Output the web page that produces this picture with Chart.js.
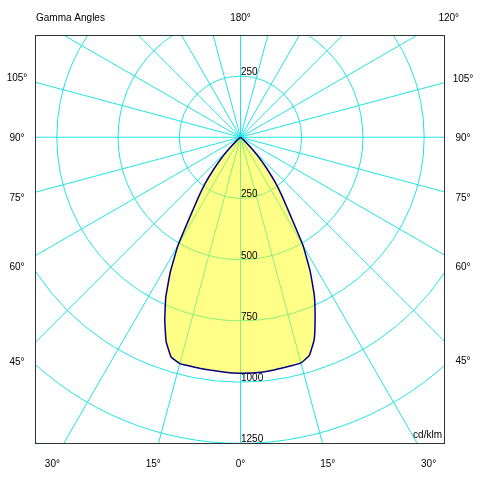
<!DOCTYPE html>
<html>
<head>
<meta charset="utf-8">
<script src="https://cdn.jsdelivr.net/npm/chart.js@4/dist/chart.umd.min.js"></script>
<style>
  html, body { margin: 0; padding: 0; background: #fff; }
  canvas { display: block; }
</style>
</head>
<body>
<canvas id="c" width="480" height="480"></canvas>
<script>
// Gamma angles (deg, 0 = straight down) and luminous intensity (cd/klm)
const gammaAngles   = [0, 2.5, 5, 7.5, 10, 12.5, 15, 17.5, 20, 22.5, 25, 27.5, 30, 32.5, 35, 37.5, 40, 42.5, 45, 47.5, 50, 55, 60, 70, 80, 90];
const intensityRight = [965, 965, 964, 962, 959, 957, 955, 935, 880, 796, 713, 615, 510, 380, 300, 235, 168, 112, 58, 25, 8, 2, 0, 0, 0, 0];
const intensityLeft  = [965, 964, 961, 960, 959, 958, 958, 942, 888, 808, 722, 620, 510, 380, 300, 235, 168, 112, 58, 25, 8, 2, 0, 0, 0, 0];
// Grid
const ringValues  = [250, 500, 750, 1000, 1250];
const spokeAngles = [0, 15, 30, 45, 60, 75, 90, 105, 120, 135, 150, 165];
// Angle labels: [gamma, side] side = +1 right, -1 left
const angleLabels = [[0, 1], [15, 1], [30, 1], [45, 1], [60, 1], [75, 1], [90, 1], [105, 1], [120, 1],
                     [15, -1], [30, -1], [45, -1], [60, -1], [75, -1], [90, -1], [105, -1], [180, 1]];
const titleText = 'Gamma Angles';
const unitText = 'cd/klm';

const FONT = '10px "Liberation Sans", Arial, sans-serif';
const GRID = '#1fe4e4';

function toXY(g, v, side) {
  const a = g * Math.PI / 180;
  return { x: side * v * Math.sin(a), y: -v * Math.cos(a) };
}
const curve = [];
for (let i = gammaAngles.length - 1; i >= 0; i--) curve.push(toXY(gammaAngles[i], intensityLeft[i], -1));
for (let i = 0; i < gammaAngles.length; i++) curve.push(toXY(gammaAngles[i], intensityRight[i], 1));

const polarGrid = {
  id: 'polarGrid',
  beforeDatasetsDraw(chart) {
    const { ctx, chartArea: a, scales: { x, y } } = chart;
    const cx = x.getPixelForValue(0), cy = y.getPixelForValue(0);
    const k = x.getPixelForValue(1000) - cx;
    ctx.save();
    ctx.beginPath();
    ctx.rect(a.left, a.top, a.right - a.left, a.bottom - a.top);
    ctx.clip();
    ctx.strokeStyle = GRID;
    ctx.lineWidth = 1;
    ringValues.concat([1500]).forEach(v => {
      ctx.beginPath();
      ctx.arc(cx, cy, v * k / 1000, 0, Math.PI * 2);
      ctx.stroke();
    });
    spokeAngles.forEach(g => {
      const r = g * Math.PI / 180;
      const ux = Math.sin(r) * 800, uy = Math.cos(r) * 800;
      ctx.beginPath();
      ctx.moveTo(cx - ux, cy - uy);
      ctx.lineTo(cx + ux, cy + uy);
      ctx.stroke();
    });
    ctx.restore();
  },
  afterDatasetsDraw(chart) {
    const { ctx, chartArea: a, scales: { x, y } } = chart;
    const cx = x.getPixelForValue(0), cy = y.getPixelForValue(0);
    const k = x.getPixelForValue(1000) - cx;
    ctx.save();
    ctx.font = FONT;
    ctx.fillStyle = '#000';
    ctx.textAlign = 'left';
    ctx.textBaseline = 'alphabetic';
    ringValues.forEach(v => {
      const r = v * k / 1000;
      if (cy + r <= a.bottom + 1) ctx.fillText(String(v), cx + 0.5, cy + r - 1);
      if (cy - r >= a.top) ctx.fillText(String(v), cx + 0.5, cy - r - 1);
    });
    // box
    ctx.strokeStyle = '#333';
    ctx.lineWidth = 1;
    ctx.strokeRect(Math.round(a.left) + 0.5, Math.round(a.top) + 0.5, Math.round(a.right - a.left) - 1, Math.round(a.bottom - a.top));
    // unit
    ctx.textAlign = 'right';
    ctx.fillText(unitText, a.right - 3, a.bottom - 5.5);
    // title
    ctx.textAlign = 'left';
    ctx.fillText(titleText, a.left + 1, 21);
    // angle labels on rectangle outside the plot
    const L = a.left - 18, R = a.right + 18, T = a.top - 18, B = a.bottom + 20;
    ctx.textAlign = 'center';
    angleLabels.forEach(([g, side]) => {
      const r = g * Math.PI / 180;
      const dx = side * Math.sin(r), dy = Math.cos(r);
      let t = Infinity;
      if (dx > 1e-9) t = Math.min(t, (R - cx) / dx);
      if (dx < -1e-9) t = Math.min(t, (L - cx) / dx);
      if (dy > 1e-9) t = Math.min(t, (B - cy) / dy);
      if (dy < -1e-9) t = Math.min(t, (T - cy) / dy);
      const px = cx + dx * t, py = cy + dy * t;
      ctx.fillText(g + '\u00B0', px, py + 4);
    });
    ctx.restore();
  }
};

new Chart(document.getElementById('c'), {
  type: 'scatter',
  data: {
    datasets: [{
      data: curve,
      showLine: true,
      fill: 'shape',
      backgroundColor: 'rgba(255,255,0,0.47)',
      borderColor: '#000080',
      borderWidth: 1.5,
      pointRadius: 0,
      tension: 0.1
    }]
  },
  options: {
    responsive: false,
    animation: false,
    events: [],
    layout: { padding: { left: 35, right: 35, top: 35, bottom: 37 } },
    plugins: { legend: { display: false }, tooltip: { enabled: false } },
    scales: {
      x: { type: 'linear', display: false, min: -839, max: 835 },
      y: { type: 'linear', display: false, min: -1250, max: 418 }
    }
  },
  plugins: [polarGrid]
});
</script>
</body>
</html>
